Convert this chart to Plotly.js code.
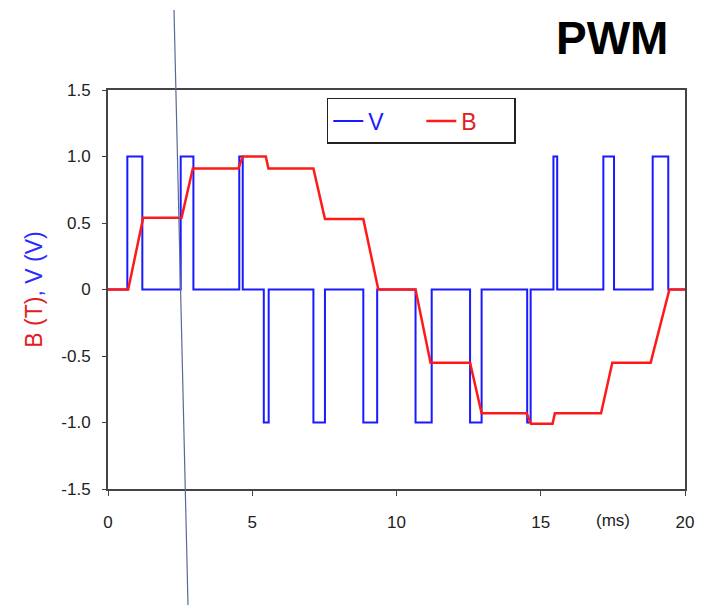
<!DOCTYPE html>
<html>
<head>
<meta charset="utf-8">
<script src="https://cdn.plot.ly/plotly-3.0.1.min.js"></script>
<style>html,body{margin:0;padding:0;background:#fff;}#chart{width:705px;height:610px;}</style>
</head>
<body>
<div id="chart"></div>
<script>
// Voltage (PWM) step change points, ms
const vTime = [0, 0.67, 1.19, 2.52, 2.96, 4.55, 4.67, 5.40, 5.57, 7.12, 7.52, 8.85, 9.33, 10.66, 11.22, 12.55, 12.95, 14.53, 14.65, 15.44, 15.57, 17.17, 17.54, 18.88, 19.42, 20];
const vVal  = [0, 1, 0, 1, 0, 1, 0, -1, 0, -1, 0, -1, 0, -1, 0, -1, 0, -1, 0, 1, 0, 1, 0, 1, 0, 0];

// Flux density B, piecewise linear
const bTime = [0, 0.70, 1.22, 2.55, 2.94, 4.52, 4.67, 5.47, 5.56, 7.12, 7.52, 8.85, 9.37, 10.66, 11.18, 12.55, 12.95, 14.51, 14.66, 15.41, 15.49, 17.09, 17.48, 18.81, 19.46, 20];
const bVal  = [0, 0, 0.54, 0.54, 0.91, 0.91, 1.0, 1.0, 0.91, 0.91, 0.53, 0.53, 0, 0, -0.55, -0.55, -0.93, -0.93, -1.01, -1.01, -0.93, -0.93, -0.55, -0.55, 0, 0];

const xTickVals = [0, 5, 10, 15, 20];
const xTickText = ['0', '5', '10', '15', '20'];
const yTickVals = [-1.5, -1.0, -0.5, 0, 0.5, 1.0, 1.5];
const yTickText = ['-1.5', '-1.0', '-0.5', '0', '0.5', '1.0', '1.5'];

const FONT = '"Liberation Sans", Arial, sans-serif';

const traces = [
  {x: vTime, y: vVal, type: 'scatter', mode: 'lines', line: {shape: 'hv', color: '#1a1aff', width: 2},
   name: '<span style="color:#1a1aff">V</span>'},
  {x: bTime, y: bVal, type: 'scatter', mode: 'lines', line: {color: '#ff1a1a', width: 2.5},
   name: '<span style="color:#e02020">B</span>'}
];

const layout = {
  width: 705, height: 610,
  margin: {l: 108, r: 20, t: 90, b: 121},
  paper_bgcolor: '#fff', plot_bgcolor: '#fff',
  font: {family: FONT, size: 17, color: '#222'},
  showlegend: true,
  legend: {orientation: 'h', x: 0.543, y: 0.98, xanchor: 'center', yanchor: 'top',
           bordercolor: '#222', borderwidth: 1.5, bgcolor: '#fff',
           font: {size: 23, family: FONT}, itemwidth: 30, entrywidth: 48, entrywidthmode: 'pixels'},
  xaxis: {range: [0, 20], tickvals: xTickVals, ticktext: xTickText, showgrid: false, zeroline: false,
          showline: true, mirror: true, linecolor: '#444', linewidth: 2,
          ticks: 'outside', ticklen: 5, tickcolor: '#444', ticklabelstandoff: 12,
          tickfont: {size: 17, color: '#222'}},
  yaxis: {range: [-1.5, 1.5], tickvals: yTickVals, ticktext: yTickText, showgrid: false, zeroline: false,
          showline: true, mirror: true, linecolor: '#444', linewidth: 2,
          ticks: 'outside', ticklen: 4, tickcolor: '#444', ticklabelstandoff: 8,
          tickfont: {size: 17, color: '#222'},
          title: {text: '<span style="color:#e02020">B (T)</span><span style="color:#2a2aff">, V (V)</span>',
                  font: {size: 23, family: FONT}, standoff: 12}},
  annotations: [
    {text: '<b>PWM</b>', xref: 'paper', yref: 'paper', x: 1.0, y: 1.13, xanchor: 'right', yanchor: 'middle',
     showarrow: false, font: {size: 46, family: FONT, color: '#000'}, xshift: -15},
    {text: '(ms)', xref: 'x', yref: 'paper', x: 17.5, y: 0, yanchor: 'top', xanchor: 'center',
     showarrow: false, yshift: -20, font: {size: 17, family: FONT, color: '#222'}}
  ],
  shapes: [
    {type: 'line', xref: 'paper', yref: 'paper', x0: (174 - 108) / 577, y0: (489 - 10) / 399,
     x1: (188 - 108) / 577, y1: (489 - 605) / 399, line: {color: '#5a6896', width: 1.2}, layer: 'above'}
  ]
};

Plotly.newPlot('chart', traces, layout, {displayModeBar: false, staticPlot: true});
</script>
</body>
</html>
